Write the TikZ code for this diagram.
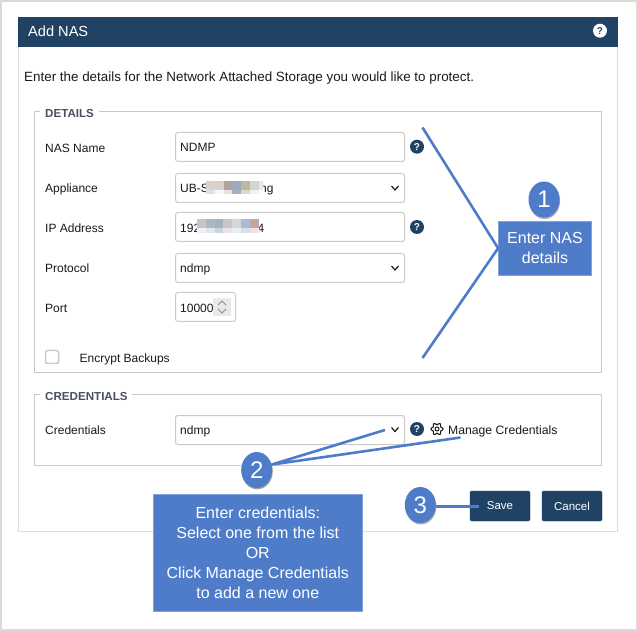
\documentclass[tikz,border=0pt]{standalone}
\usepackage{fontspec}
\setmainfont{Liberation Sans}
\usetikzlibrary{shadows,calc,shapes.geometric}
\definecolor{navy}{HTML}{204365}
\definecolor{callout}{HTML}{4F7CC8}
\definecolor{calloutedge}{HTML}{7FA2DC}
\definecolor{framecol}{HTML}{E0D8D6}
\definecolor{panelline}{HTML}{DDDDDD}
\definecolor{boxline}{HTML}{C9C9C9}
\definecolor{fieldline}{HTML}{CBCBCB}
\definecolor{legendcol}{HTML}{4A5064}
\definecolor{ink}{HTML}{1A1A1A}
\definecolor{spinbg}{HTML}{E9E9ED}
\newcommand{\fs}[1]{\fontsize{#1}{#1}\selectfont}
\tikzset{
  x=1pt,y=-1pt,
  fieldbox/.style={draw=fieldline,line width=1pt,rounded corners=2.5pt,fill=white},
  groupbox/.style={draw=boxline,line width=1pt},
  lbl/.style={anchor=base west,inner sep=0pt,text=ink,font=\fs{12}},
  legend/.style={anchor=base west,inner sep=0pt,text=legendcol,font=\fs{11.6}\bfseries},
  val/.style={anchor=base west,inner sep=0pt,text=ink,font=\fs{12}},
  chev/.style={draw=ink,line width=1.2pt},
  spin/.style={draw=gray!90,line width=.9pt},
  helpdark/.style={circle,fill=navy,minimum size=14pt,inner sep=0pt,text=white,font=\fs{10}\bfseries},
  helplight/.style={circle,fill=white,minimum size=14pt,inner sep=0pt,text=navy,font=\fs{10}\bfseries},
  btn/.style={draw=navy!80!black,fill=navy,rounded corners=2pt,minimum width=60pt,minimum height=30pt,inner sep=0pt,text=white,font=\fs{11.5}},
  numdot/.style={ellipse,fill=callout,minimum width=31pt,minimum height=36pt,inner sep=0pt,text=white,font=\fs{24},
    drop shadow={shadow xshift=.6pt,shadow yshift=-1.4pt,opacity=.35,fill=black}},
  notebox/.style={draw=calloutedge,line width=.8pt,fill=callout,text=white,font=\fontsize{16}{20}\selectfont,align=center,inner sep=0pt},
  leader/.style={draw=callout,line width=2.6pt},
}
\begin{document}
\begin{tikzpicture}
\useasboundingbox (0,0) rectangle (638,631);
% frame
\fill[framecol] (0,0) rectangle (638,631);
\fill[white] (2,2) rectangle (636,629);
% panel
\draw[panelline,line width=1pt] (18.5,47) -- (18.5,531) -- (617.5,531) -- (617.5,47);
\fill[navy] (18,17) rectangle (618,47);
\node[anchor=base west,inner sep=0pt,text=white,font=\fs{14.6}] (title) at (28,37) {Add NAS};
\node[helplight] (helptop) at (600,30.7) {?};
\node[anchor=base west,inner sep=0pt,text=ink,font=\fs{13.4}] (intro) at (24,81.5) {Enter the details for the Network Attached Storage you would like to protect.};
% group boxes
\draw[groupbox] (40,111.5) -- (34.5,111.5) -- (34.5,372.5) -- (601.5,372.5) -- (601.5,111.5) -- (99,111.5);
\node[legend] (detailslegend) at (45,117.5) {DETAILS};
\draw[groupbox] (40,394.5) -- (34.5,394.5) -- (34.5,465.5) -- (601.5,465.5) -- (601.5,394.5) -- (132,394.5);
\node[legend] (credlegend) at (45,400.5) {CREDENTIALS};
% labels
\node[lbl] (l1) at (45,152.7) {NAS Name};
\node[lbl] (l2) at (45,192.7) {Appliance};
\node[lbl] (l3) at (45,232.7) {IP Address};
\node[lbl] (l4) at (45,272.7) {Protocol};
\node[lbl] (l5) at (45,312.7) {Port};
\node[lbl] (l6) at (79.5,362.7) {Encrypt Backups};
\node[lbl] (l7) at (45,434.7) {Credentials};
% fields
\draw[fieldbox] (175.5,132.5) rectangle (404.5,161.5);
\draw[fieldbox] (175.5,173.5) rectangle (404.5,202.5);
\draw[fieldbox] (175.5,212.5) rectangle (404.5,241.5);
\draw[fieldbox] (175.5,253.5) rectangle (404.5,282.5);
\draw[fieldbox] (175.5,292.5) rectangle (235.5,321.5);
\draw[fieldbox] (175.5,415.5) rectangle (404.5,444.5);
\draw[draw=fieldline,line width=1.5pt,rounded corners=2pt,fill=white] (45.5,350.5) rectangle (58.5,363.5);
\node[val] (v1) at (180,151.7) {NDMP};
\node[val] (v2) at (180,192.7) {UB-S};
\node[val] (v2b) at (260,192.7) {ng};
\node[val] (v3) at (180,232.7) {192};
\node[val] (v3b) at (257.5,232.7) {4};
\node[val] (v4) at (180,272.7) {ndmp};
\node[val] (v5) at (180,312.7) {10000};
\node[val] (v7) at (180,434.7) {ndmp};
% mosaic (appliance)
\definecolor{a1}{HTML}{E0CFC5}\definecolor{a2}{HTML}{D8D0CB}\definecolor{a3}{HTML}{B0A498}\definecolor{a4}{HTML}{9CABBE}\definecolor{a5}{HTML}{BDB8A0}\definecolor{a6}{HTML}{CFD8D0}\definecolor{a7}{HTML}{E8E8E0}
\definecolor{b1}{HTML}{D5E3F5}\definecolor{b2}{HTML}{F7F7FA}\definecolor{b3}{HTML}{E8E2DA}\definecolor{b4}{HTML}{A0B0C5}\definecolor{b5}{HTML}{DCD8CC}\definecolor{b6}{HTML}{EEF4EC}\definecolor{b7}{HTML}{FFFFFF}
\foreach \i/\xa/\xb in {1/206/215,2/215/224,3/224/232,4/232/241,5/241/250,6/250/259,7/259/262.5}{
  \fill[a\i] (\xa,181) rectangle (\xb,190);
  \fill[b\i] (\xa,190) rectangle (\xb,194);
}
% mosaic (ip)
\definecolor{c1}{HTML}{CBC3CC}\definecolor{c2}{HTML}{A8B8C5}\definecolor{c3}{HTML}{A5B2BD}\definecolor{c4}{HTML}{CCC4CC}\definecolor{c5}{HTML}{D0D8D8}\definecolor{c6}{HTML}{A8BCD8}\definecolor{c7}{HTML}{C0A8A0}
\definecolor{d1}{HTML}{F0F0F4}\definecolor{d2}{HTML}{DFE6EA}\definecolor{d3}{HTML}{C8D4E0}\definecolor{d4}{HTML}{E8E4EC}\definecolor{d5}{HTML}{E8EEF0}\definecolor{d6}{HTML}{D8DFEA}\definecolor{d7}{HTML}{ECE2E0}
\foreach \i/\xa/\xb in {1/197/206,2/206/215,3/215/223,4/223/232,5/232/241,6/241/250,7/250/259}{
  \fill[c\i] (\xa,219) rectangle (\xb,228);
  \fill[d\i] (\xa,228) rectangle (\xb,233);
}
% chevrons
\foreach \cy in {188,268,429.5}{\draw[chev] (391.5,\cy-2) -- (395,\cy+2) -- (398.5,\cy-2);}
% spinner
\fill[spinbg] (213,298) rectangle (231,316);
\draw[spin] (218,305) -- (222,301) -- (226,305);
\draw[spin] (218,309) -- (222,313) -- (226,309);
% help icons
\node[helpdark] (h1) at (417,146.7) {?};
\node[helpdark] (h2) at (417,227) {?};
\node[helpdark] (h3) at (417,429) {?};
% gear + manage
\draw[ink,line width=1.1pt,smooth,samples=49,domain=0:360] plot ({437+(5.2+.9*cos(6*\x))*cos(\x)},{429+(5.2+.9*cos(6*\x))*sin(\x)}) -- cycle;
\draw[ink,line width=1pt] (437,429) circle (2);
\node[lbl,font=\fs{12.2}] (manage) at (448,434.7) {Manage Credentials};
% buttons
\node[btn] (save) at (500,506) {\raisebox{-.7pt}{Save}};
\node[btn] (cancel) at (572,506) {\raisebox{-.7pt}{Cancel}};
% callouts
\node[notebox,minimum width=93pt,minimum height=53.5pt] (note1) at (545,248.25) {Enter NAS\\details};
\node[notebox,minimum width=209pt,minimum height=117.5pt] (note2) at (257.8,553) {Enter credentials:\\Select one from the list\\OR\\Click Manage Credentials\\to add a new one};
\node[numdot] (n1) at (544,199.5) {1};
\node[numdot] (n3) at (420.3,505) {3};
\node[numdot] (n2) at (256.7,470) {2};
\coordinate (t1a) at (422.5,127.5);
\coordinate (t1b) at (422.5,358);
\coordinate (t2a) at (385,430);
\coordinate (t2b) at (460.5,437.5);
\coordinate (t3) at (478.5,506.3);
\draw[leader] (t1a) -- (note1.west) -- (t1b);
\draw[leader] (n3.east |- t3) -- (t3);
\draw[leader] (t2a) -- (n2.20) -- (t2b);
\end{tikzpicture}
\end{document}
